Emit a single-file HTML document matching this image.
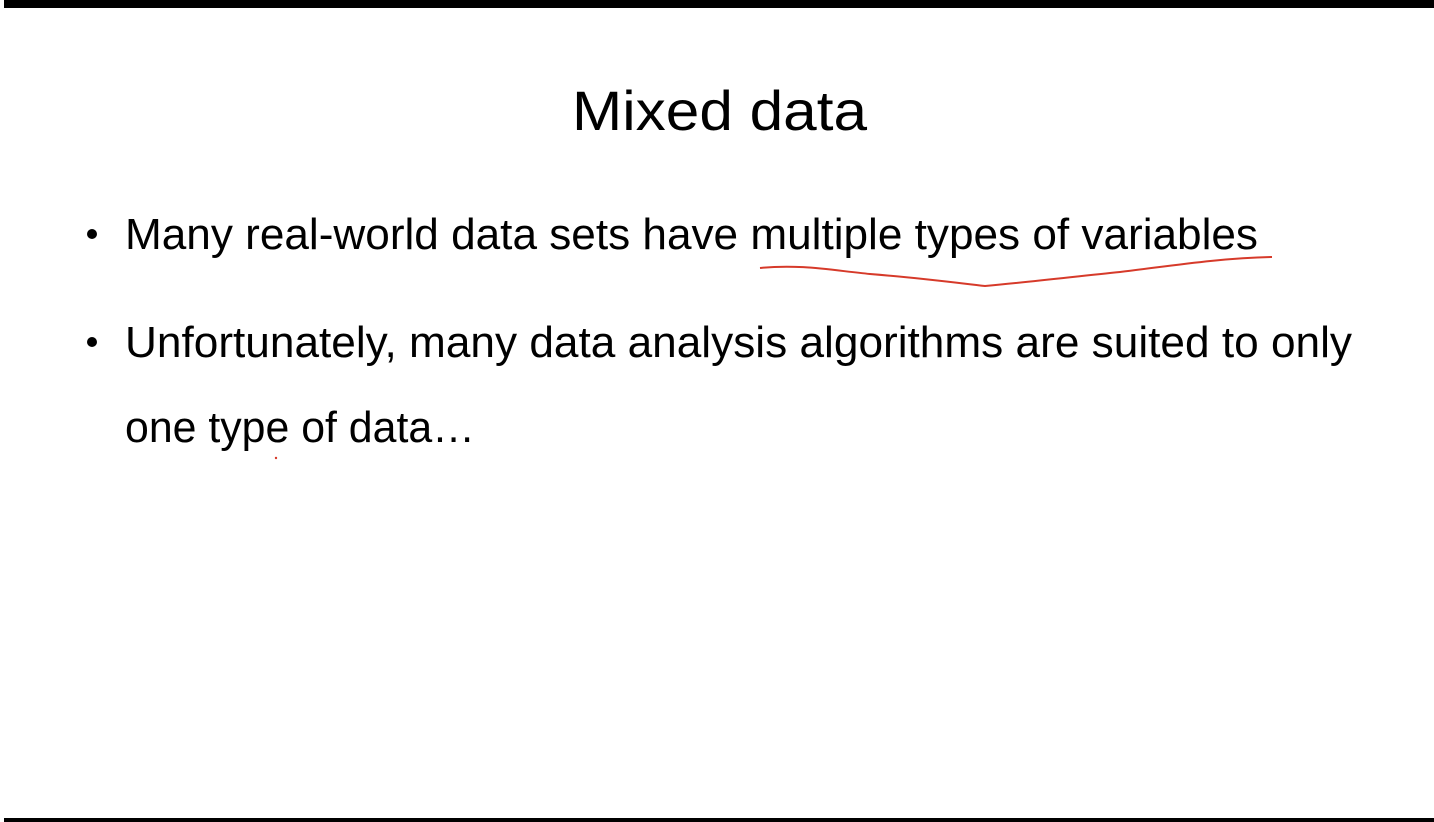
<!DOCTYPE html>
<html><head><meta charset="utf-8"><style>
html,body{margin:0;padding:0;background:#fff;width:1434px;height:822px;overflow:hidden}
svg{display:block}
text{font-family:"Liberation Sans",sans-serif;fill:#000}
</style></head><body>
<svg width="1434" height="822" viewBox="0 0 1434 822">
<rect x="4" y="0" width="1430" height="8" fill="#000"/>
<rect x="4" y="818" width="1430" height="4" fill="#000"/>
<text x="572" y="130" font-size="56" textLength="295" lengthAdjust="spacingAndGlyphs">Mixed data</text>
<circle cx="92" cy="234" r="5" fill="#000"/>
<text x="125" y="249" font-size="44" textLength="1133" lengthAdjust="spacingAndGlyphs">Many real-world data sets have multiple types of variables</text>
<path d="M760,268 C800,264 830,270 870,274 C920,278 950,282 985,286 C1030,282 1080,276 1120,272 C1170,266 1220,258 1272,257" fill="none" stroke="#d63a2a" stroke-width="2"/>
<circle cx="92" cy="342" r="5" fill="#000"/>
<text x="125" y="357" font-size="44" textLength="1227" lengthAdjust="spacingAndGlyphs">Unfortunately, many data analysis algorithms are suited to only</text>
<text x="125" y="442" font-size="44" textLength="350" lengthAdjust="spacingAndGlyphs">one type of data…</text>
<circle cx="276" cy="458" r="1.2" fill="#d63a2a"/>
</svg>
</body></html>
